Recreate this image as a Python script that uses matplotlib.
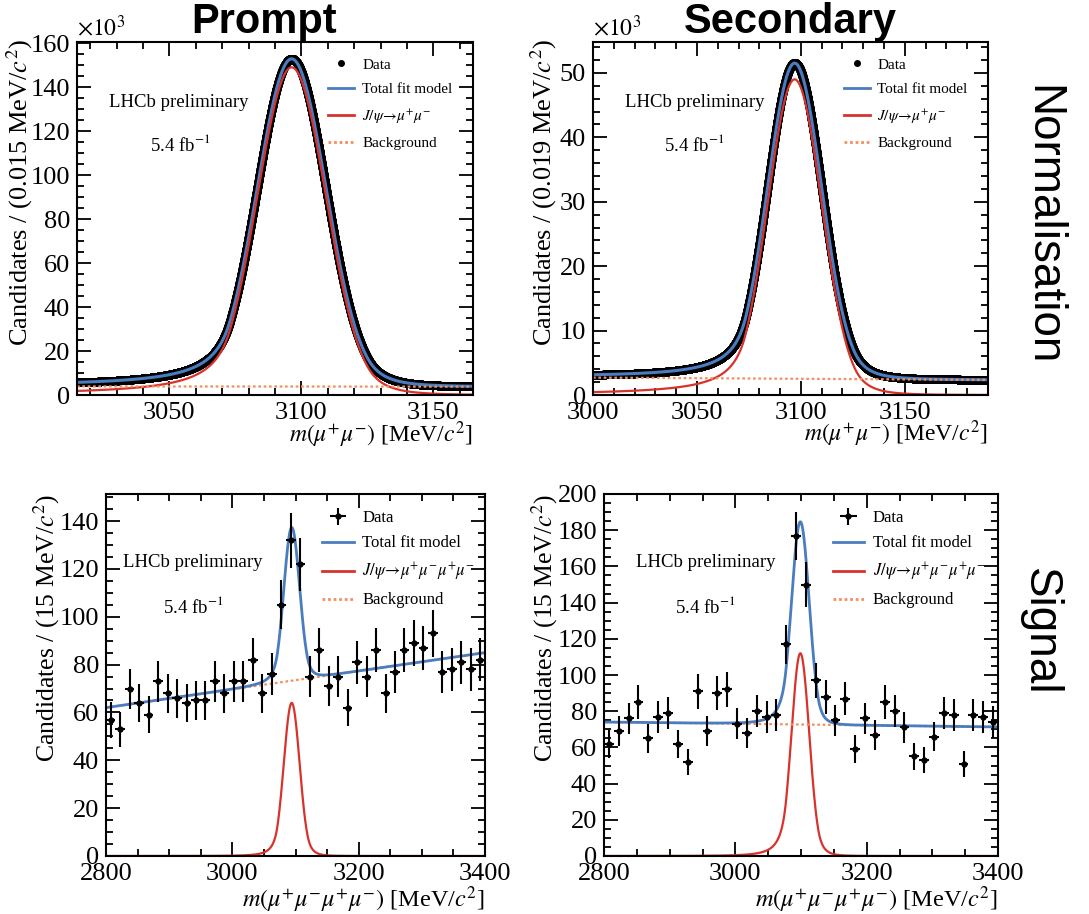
import numpy as np
import matplotlib
matplotlib.use("Agg")
import matplotlib.pyplot as plt
from matplotlib.lines import Line2D
from matplotlib.ticker import MultipleLocator

plt.rcParams["font.family"] = ["Liberation Serif", "DejaVu Serif"]
plt.rcParams["mathtext.fontset"] = "stix"

BLUE = "#4a7cc0"
RED = "#d8322c"
ORANGE = "#f39060"

# --- normalisation fits ---
prompt_range = (3015, 3165)
prompt_bin = 0.015
prompt_sig = dict(mu=3096.3, sig=13.0, aL=1.8, nL=1.5, aR=2.2, nR=5.0, amp=149.0)
prompt_bkg = (3.9, 3.8)          # background at low / high edge [x10^3]

second_range = (3000, 3190)
second_bin = 0.019
second_sig = dict(mu=3097.0, sig=13.0, aL=1.8, nL=1.5, aR=2.2, nR=5.0, amp=49.0)
second_bkg = (2.7, 2.35)

# --- signal channel: 15 MeV bins from 2800 to 3400 ---
sig_edges = np.arange(2800, 3401, 15)
prompt_counts = [57, 53, 70, 64, 59, 73, 68, 66, 64, 65,
                 65, 73, 68, 73, 73, 82, 68, 76, 105, 132,
                 122, 75, 86, 71, 75, 62, 81, 75, 86, 68,
                 77, 86, 89, 87, 93, 77, 78, 81, 78, 82]
second_counts = [62, 69, 76, 85, 65, 77, 79, 62, 52, 91,
                 69, 90, 92, 73, 68, 80, 77, 78, 117, 177,
                 150, 97, 88, 75, 87, 59, 76, 67, 85, 80,
                 71, 55, 53, 66, 79, 78, 51, 78, 77, 74]
prompt4_sig = dict(mu=3094.0, sig=12.5, aL=1.8, nL=3.0, aR=2.0, nR=5.0, amp=64.0)
prompt4_bkg = (62.0, 85.0)
second4_sig = dict(mu=3099.0, sig=13.5, aL=1.6, nL=3.0, aR=2.0, nR=5.0, amp=112.0)
second4_bkg = (74.0, 71.3)


def dscb(x, mu, sig, aL, nL, aR, nR, amp):
    t = (x - mu) / sig
    y = np.exp(-0.5 * t**2)
    AL = (nL / aL)**nL * np.exp(-0.5 * aL**2)
    BL = nL / aL - aL
    AR = (nR / aR)**nR * np.exp(-0.5 * aR**2)
    BR = nR / aR - aR
    lo = t < -aL
    hi = t > aR
    y[lo] = AL / (BL - t[lo])**nL
    y[hi] = AR / (BR + t[hi])**nR
    return amp * y


def linbkg(x, lims, ends):
    return ends[0] + (ends[1] - ends[0]) * (x - lims[0]) / (lims[1] - lims[0])


def style_axes(ax):
    ax.tick_params(which="both", direction="in", top=True, right=True,
                   labelsize=19, width=1.3, pad=5)
    ax.tick_params(which="major", length=10)
    ax.tick_params(which="minor", length=5)
    for s in ax.spines.values():
        s.set_linewidth(1.5)


def add_texts(ax, x1, y1, x2, y2, size=13.5):
    ax.text(x1, y1, "LHCb preliminary", transform=ax.transAxes, fontsize=size, va="center")
    ax.text(x2, y2, r"5.4 fb$^{-1}$", transform=ax.transAxes, fontsize=size, va="center")


fig = plt.figure(figsize=(10.89, 9.14), dpi=100)
W, H = 1089, 914


def new_axes(l, r, t, b):
    return fig.add_axes([l / W, 1 - b / H, (r - l) / W, (b - t) / H])


# ---------------- normalisation panels ----------------
norm_panels = [
    (new_axes(77, 473, 42, 395), prompt_range, prompt_bin, prompt_sig, prompt_bkg,
     (0, 160.5), 20, 5, 50, 10, r"Candidates / (0.015 MeV/$c^{2}$)", -0.105, -0.07,
     (0.08, 0.83, 0.185, 0.71), (0.635, 0.955)),
    (new_axes(593, 988, 42, 395), second_range, second_bin, second_sig, second_bkg,
     (0, 54.8), 10, 2, 50, 10, r"Candidates / (0.019 MeV/$c^{2}$)", -0.085, -0.065,
     (0.08, 0.83, 0.18, 0.71), (0.635, 0.955)),
]
for (ax, lims, bw, sp, bk, ylim, ymaj, ymin, xmaj, xmin, ylab, ylx, xly,
     tpos, lpos) in norm_panels:
    x = np.arange(lims[0] + bw / 2, lims[1], bw)
    bkg = linbkg(x, lims, bk)
    sig = dscb(x, **sp)
    tot = sig + bkg
    ax.plot(x, tot, "o", color="black", ms=6, mew=0)
    ax.plot(x, tot, color=BLUE, lw=2.2)
    ax.plot(x, sig, color=RED, lw=1.6)
    ax.plot(x, bkg, color=ORANGE, lw=1.6, ls=(0, (1.2, 1.2)))
    ax.set_xlim(*lims)
    ax.set_ylim(*ylim)
    ax.yaxis.set_major_locator(MultipleLocator(ymaj))
    ax.yaxis.set_minor_locator(MultipleLocator(ymin))
    ax.xaxis.set_major_locator(MultipleLocator(xmaj))
    ax.xaxis.set_minor_locator(MultipleLocator(xmin))
    style_axes(ax)
    ax.set_ylabel(ylab, fontsize=19, loc="top")
    ax.yaxis.set_label_coords(ylx, 1.01)
    ax.set_xlabel(r"$m(\mu^{+}\mu^{-})$ [MeV/$c^{2}$]", fontsize=17, loc="right")
    ax.xaxis.set_label_coords(1.0, xly)
    ax.text(0.0, 1.005, r"$\times10^{3}$", transform=ax.transAxes, fontsize=17,
            va="bottom", ha="left")
    add_texts(ax, *tpos)
    handles = [Line2D([], [], ls="none", marker="o", color="black", ms=4),
               Line2D([], [], color=BLUE, lw=2),
               Line2D([], [], color=RED, lw=2),
               Line2D([], [], color=ORANGE, lw=2, ls=(0, (1, 1)))]
    labels = ["Data", "Total fit model", r"$J/\psi\!\rightarrow\!\mu^{+}\mu^{-}$", "Background"]
    ax.legend(handles, labels, loc="upper left", bbox_to_anchor=lpos, frameon=False,
              fontsize=11, handlelength=1.7, handletextpad=0.5, labelspacing=0.72,
              borderpad=0, borderaxespad=0)

# ---------------- signal panels ----------------
sig_panels = [
    (new_axes(106, 485, 494, 856), prompt_counts, prompt4_sig, prompt4_bkg, (0, 151.3),
     -0.116, (0.045, 0.81, 0.15, 0.69), (0.57, 0.955)),
    (new_axes(604, 998, 494, 856), second_counts, second4_sig, second4_bkg, (0, 200),
     -0.112, (0.08, 0.81, 0.18, 0.69), (0.58, 0.955)),
]
for ax, counts, sp, bk, ylim, ylx, tpos, lpos in sig_panels:
    counts = np.array(counts, dtype=float)
    centres = 0.5 * (sig_edges[:-1] + sig_edges[1:])
    lims = (2800, 3400)
    xf = np.linspace(lims[0], lims[1], 1500)
    bkg = linbkg(xf, lims, bk)
    sig = dscb(xf, **sp)
    ax.plot(xf, sig, color=RED, lw=1.6)
    ax.plot(xf, bkg, color=ORANGE, lw=1.6, ls=(0, (1.2, 1.2)))
    ax.plot(xf, sig + bkg, color=BLUE, lw=2.0)
    eb = ax.errorbar(centres, counts, xerr=7.5, yerr=np.sqrt(counts), fmt="o",
                     color="black", ms=3.5, elinewidth=1.5, capsize=0)
    ax.set_xlim(*lims)
    ax.set_ylim(*ylim)
    ax.yaxis.set_major_locator(MultipleLocator(20))
    ax.yaxis.set_minor_locator(MultipleLocator(5))
    ax.xaxis.set_major_locator(MultipleLocator(200))
    ax.xaxis.set_minor_locator(MultipleLocator(50))
    style_axes(ax)
    ax.set_ylabel(r"Candidates / (15 MeV/$c^{2}$)", fontsize=18.5, loc="top")
    ax.yaxis.set_label_coords(ylx, 1.0)
    ax.set_xlabel(r"$m(\mu^{+}\mu^{-}\mu^{+}\mu^{-})$ [MeV/$c^{2}$]", fontsize=17.5, loc="right")
    ax.xaxis.set_label_coords(1.0, -0.078)
    add_texts(ax, *tpos)
    handles = [eb, Line2D([], [], color=BLUE, lw=2), Line2D([], [], color=RED, lw=2),
               Line2D([], [], color=ORANGE, lw=2, ls=(0, (1, 1)))]
    labels = ["Data", "Total fit model",
              r"$J/\psi\!\rightarrow\!\mu^{+}\mu^{-}\mu^{+}\mu^{-}$", "Background"]
    ax.legend(handles, labels, loc="upper left", bbox_to_anchor=lpos, frameon=False,
              fontsize=12, handlelength=1.9, handletextpad=0.5, labelspacing=0.55,
              borderpad=0, borderaxespad=0)

# ---------------- titles ----------------
sans = ["Liberation Sans", "DejaVu Sans"]
fig.text(264 / W, 1 - 33 / H, "Prompt", family=sans, fontsize=30, weight="bold",
         ha="center", va="baseline")
fig.text(790 / W, 1 - 33 / H, "Secondary", family=sans, fontsize=30, weight="bold",
         ha="center", va="baseline")
fig.text(1042 / W, 1 - 225 / H, "Normalisation", family=sans, fontsize=33,
         rotation=270, ha="center", va="center")
fig.text(1040 / W, 1 - 632 / H, "Signal", family=sans, fontsize=33,
         rotation=270, ha="center", va="center")

fig.savefig("out.png", dpi=100)
